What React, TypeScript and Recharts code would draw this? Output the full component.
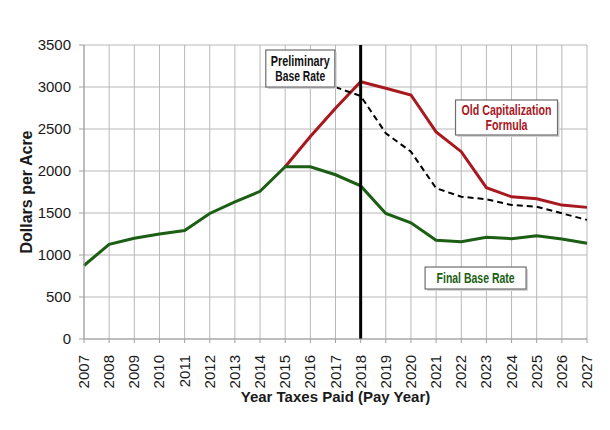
import React from 'react';
import { LineChart, Line, XAxis, YAxis, CartesianGrid, ReferenceLine, ReferenceDot } from 'recharts';

const years = [2007, 2008, 2009, 2010, 2011, 2012, 2013, 2014, 2015, 2016, 2017, 2018, 2019, 2020, 2021, 2022, 2023, 2024, 2025, 2026, 2027];
const finalBaseRate = [875, 1127, 1199, 1250, 1292, 1494, 1633, 1758, 2050, 2050, 1955, 1823, 1494, 1383, 1176, 1159, 1210, 1194, 1230, 1190, 1140];
const oldCapitalization = [null, null, null, null, null, null, null, null, 2050, 2410, 2748, 3062, 2986, 2905, 2466, 2230, 1802, 1693, 1670, 1594, 1567];
const preliminaryBaseRate = [null, null, null, null, null, null, null, null, null, null, 2998, 2893, 2450, 2230, 1795, 1694, 1664, 1595, 1575, 1496, 1418];
const yTicks = [0, 500, 1000, 1500, 2000, 2500, 3000, 3500];

const data = years.map((year, i) => ({
  year,
  finalBase: finalBaseRate[i],
  oldCap: oldCapitalization[i],
  prelim: preliminaryBaseRate[i],
}));

const FONT = '"Liberation Sans", Arial, sans-serif';
const RED = '#a8181f';
const GREEN = '#1b5e14';

const YearTick = (props: any) => {
  const { x, y, payload } = props;
  return (
    <text
      x={0}
      y={0}
      transform={`translate(${x + 5},${y + 10}) rotate(-90)`}
      textAnchor="end"
      fontSize={15}
      fontFamily={FONT}
      fill="#1a1a1a"
    >
      {payload.value}
    </text>
  );
};

// lines: [text, width in px]
const boxShape = (lines: [string, number][], color: string, w: number, h: number) => (props: any) => {
  const { cx, cy } = props;
  if (cx == null || cy == null) return null;
  const lineH = 15;
  const startY = cy - ((lines.length - 1) * lineH) / 2;
  return (
    <g>
      <rect x={cx - w / 2 + 2} y={cy - h / 2 + 2} width={w} height={h} fill="#d4d4d4" />
      <rect x={cx - w / 2} y={cy - h / 2} width={w} height={h} fill="#ffffff" stroke="#6e6e6e" strokeWidth={1.2} />
      {lines.map(([t, len], i) => (
        <text
          key={t}
          x={cx}
          y={startY + i * lineH}
          textAnchor="middle"
          dominantBaseline="central"
          fontSize={14}
          fontWeight="bold"
          fontFamily={FONT}
          fill={color}
          textLength={len}
          lengthAdjust="spacingAndGlyphs"
        >
          {t}
        </text>
      ))}
    </g>
  );
};

const App: React.FC = () => {
  return (
    <div style={{ position: 'absolute', left: 0, top: 0, width: 610, height: 430, background: '#fff' }}>
      <LineChart width={610} height={430} data={data} margin={{ top: 45, right: 23, bottom: 0, left: 0 }}>
        <CartesianGrid stroke="#b8b8b8" strokeWidth={1} vertical horizontal />
        <XAxis
          dataKey="year"
          type="number"
          domain={[2007, 2027]}
          ticks={years}
          interval={0}
          height={91}
          tick={<YearTick />}
          tickSize={4}
          stroke="#a0a0a0"
          label={{ value: 'Year Taxes Paid (Pay Year)', position: 'insideBottom', offset: 28, style: { fontSize: 15, fontWeight: 'bold', fontFamily: FONT, fill: '#1a1a1a' } }}
        />
        <YAxis
          domain={[0, 3500]}
          ticks={yTicks}
          interval={0}
          width={84}
          tickSize={5}
          tickMargin={8}
          stroke="#a0a0a0"
          tick={{ fontSize: 15, fontFamily: FONT, fill: '#1a1a1a' }}
          label={{ value: 'Dollars per Acre', angle: -90, position: 'insideLeft', offset: 26, style: { textAnchor: 'middle', fontSize: 16, fontWeight: 'bold', fontFamily: FONT, fill: '#1a1a1a' } }}
        />
        <Line dataKey="oldCap" stroke={RED} strokeWidth={3} dot={false} isAnimationActive={false} connectNulls={false} />
        <Line dataKey="prelim" stroke="#000" strokeWidth={2} strokeDasharray="6 4" dot={false} isAnimationActive={false} connectNulls={false} />
        <Line dataKey="finalBase" stroke={GREEN} strokeWidth={3} dot={false} isAnimationActive={false} />
        <ReferenceLine x={2018} stroke="#000" strokeWidth={3} />
        <ReferenceDot x={2015.6} y={3220} r={1} shape={boxShape([['Preliminary', 59], ['Base Rate', 50]], '#111', 69, 37)} />
        <ReferenceDot x={2023.8} y={2637} r={1} shape={boxShape([['Old Capitalization', 90], ['Formula', 42]], RED, 102, 35)} />
        <ReferenceDot x={2022.57} y={726} r={1} shape={boxShape([['Final Base Rate', 78]], GREEN, 101, 22)} />
      </LineChart>
    </div>
  );
};

export default App;
